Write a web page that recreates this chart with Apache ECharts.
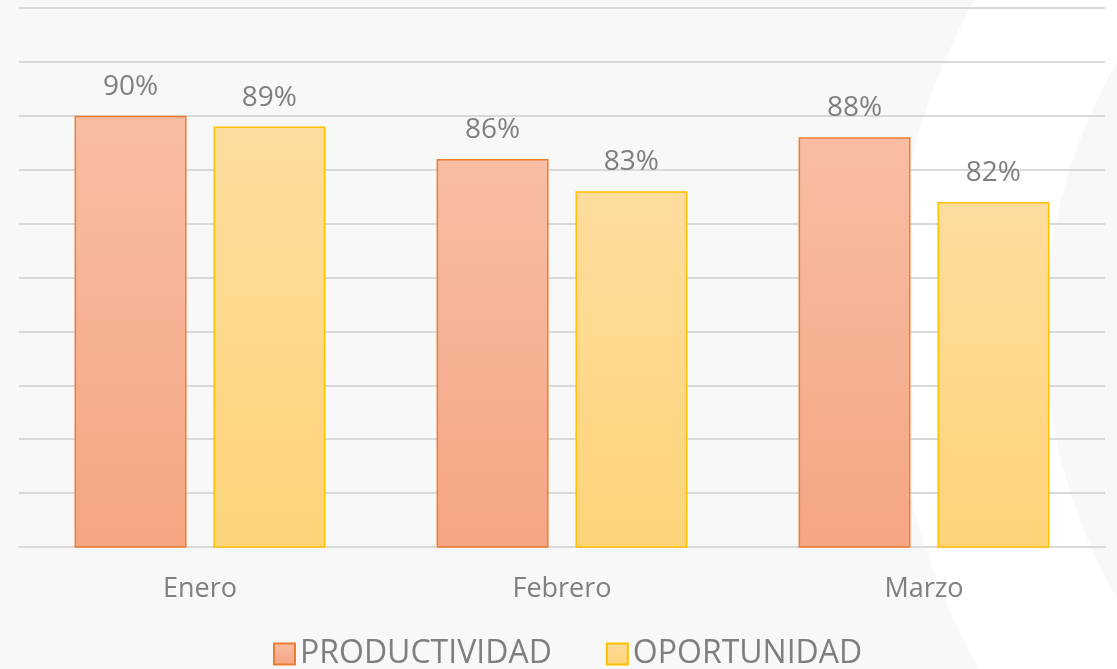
<!DOCTYPE html>
<html>
<head>
<meta charset="utf-8">
<script src="https://cdn.jsdelivr.net/npm/echarts@6/dist/echarts.min.js"></script>
<style>
html,body{margin:0;padding:0;background:#f8f8f8;}
#chart{width:1117px;height:669px;}
</style>
</head>
<body>
<div id="chart"></div>
<script>
const categories = ['Enero', 'Febrero', 'Marzo'];
const productividad = [90, 86, 88];
const oportunidad = [89, 83, 82];
const seriesNames = ['PRODUCTIVIDAD', 'OPORTUNIDAD'];

const chart = echarts.init(document.getElementById('chart'));
const grad = (top, bottom) => new echarts.graphic.LinearGradient(0, 0, 0, 1, [
  {offset: 0, color: top}, {offset: 1, color: bottom}
]);
const labelCfg = {
  show: true, position: 'top', distance: 15,
  color: '#7f7f7f', fontSize: 28, fontFamily: 'Open Sans',
  formatter: p => p.value + '%'
};
chart.setOption({
  backgroundColor: '#f8f8f8',
  animation: false,
  graphic: [{
    type: 'ring', z: -10, silent: true,
    shape: {cx: 1580, cy: 330, r0: 535, r: 690},
    style: {fill: '#ffffff'}
  }],
  grid: {left: 19, right: 12, top: 8, bottom: 122},
  legend: {
    bottom: -6, left: 268, icon: 'rect',
    itemWidth: 21, itemHeight: 21, itemGap: 54,
    textStyle: {color: '#7f7f7f', fontSize: 32, fontFamily: 'Open Sans'},
    data: seriesNames
  },
  xAxis: {
    type: 'category', data: categories,
    axisLine: {lineStyle: {color: '#d9d9d9', width: 2}},
    axisTick: {show: false},
    axisLabel: {color: '#7f7f7f', fontSize: 27, fontFamily: 'Open Sans', margin: 29}
  },
  yAxis: {
    type: 'value', min: 50, max: 100, interval: 5,
    axisLabel: {show: false}, axisLine: {show: false}, axisTick: {show: false},
    splitLine: {lineStyle: {color: '#d9d9d9', width: 2}}
  },
  series: [{
    name: seriesNames[0], type: 'bar', data: productividad,
    barGap: '24%', barCategoryGap: '30.7%',
    itemStyle: {color: grad('#f8bda3', '#f5a583'), borderColor: '#ed7d31', borderWidth: 1.5},
    label: labelCfg
  }, {
    name: seriesNames[1], type: 'bar', data: oportunidad,
    itemStyle: {color: grad('#fedc9d', '#fed479'), borderColor: '#ffc000', borderWidth: 1.5},
    label: labelCfg
  }]
});
</script>
</body>
</html>
